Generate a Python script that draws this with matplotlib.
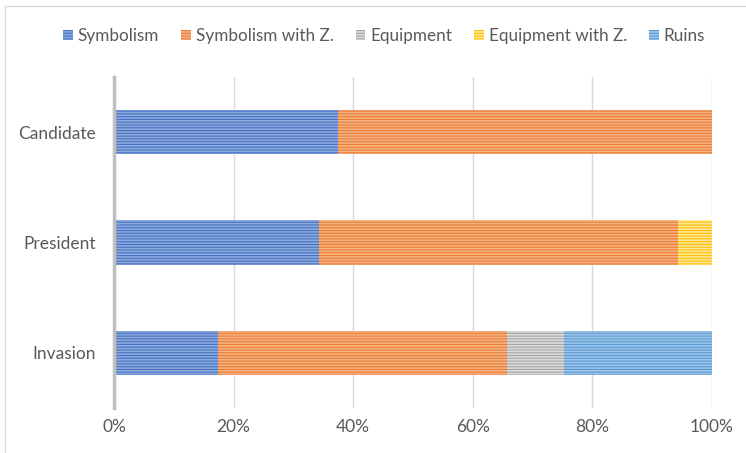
import matplotlib.pyplot as plt
import matplotlib.patches as mpatches
import numpy as np

plt.rcParams['font.family'] = ['Lato', 'DejaVu Sans']
plt.rcParams['hatch.linewidth'] = 1.2

categories = ['Invasion', 'President', 'Candidate']
series = ['Symbolism', 'Symbolism with Z.', 'Equipment', 'Equipment with Z.', 'Ruins']
symbolism = [17.4, 34.2, 37.4]
symbolism_z = [48.4, 60.1, 62.6]
equipment = [9.4, 0.0, 0.0]
equipment_z = [0.0, 5.7, 0.0]
ruins = [24.8, 0.0, 0.0]

colors = ['#4472C4', '#ED7D31', '#A5A5A5', '#FFC000', '#5B9BD5']
stripes = ['#8FAADC', '#F4B183', '#DBDBDB', '#FFE699', '#9DC3E6']

fig = plt.figure(figsize=(7.46, 4.53), dpi=100)
ax = fig.add_axes([114 / 746, 1 - 408 / 453, (712 - 114) / 746, (408 - 77) / 453])

# frame around the chart area (only top and left show in the crop)
fig.patches.append(mpatches.Rectangle((5 / 746, -0.1), 1.2, 1 - 6 / 453 + 0.1,
                                      transform=fig.transFigure, fill=False,
                                      edgecolor='#D9D9D9', linewidth=1))

y = np.arange(len(categories))
left = np.zeros(len(categories))
for vals, name, c, s in zip([symbolism, symbolism_z, equipment, equipment_z, ruins],
                            series, colors, stripes):
    ax.barh(y, vals, left=left, height=0.4, color=c, edgecolor=s,
            hatch='------', linewidth=0, label=name, zorder=3)
    left += np.array(vals)

ax.set_xlim(0, 100)
ax.set_ylim(-0.5, 2.5)
ax.set_yticks(y)
ax.set_yticklabels(categories)
ax.set_xticks(range(0, 101, 20))
ax.set_xticklabels([f'{v}%' for v in range(0, 101, 20)])
ax.tick_params(axis='both', length=0, labelsize=12.5, colors='#595959')
ax.tick_params(axis='y', pad=13)
ax.tick_params(axis='x', pad=8)
ax.grid(axis='x', color='#D9D9D9', linewidth=1, zorder=0)
for side in ['top', 'right', 'bottom']:
    ax.spines[side].set_visible(False)
ax.spines['left'].set_color('#BFBFBF')
ax.spines['left'].set_linewidth(2.5)
ax.spines['left'].set_zorder(4)

fig.legend(loc='center', bbox_to_anchor=(0.515, 1 - 36 / 453), ncol=5, frameon=False,
           handlelength=0.55, handleheight=0.55, handletextpad=0.3, columnspacing=1.3,
           fontsize=12.3, labelcolor='#595959')

fig.savefig('out.png', dpi=100)
